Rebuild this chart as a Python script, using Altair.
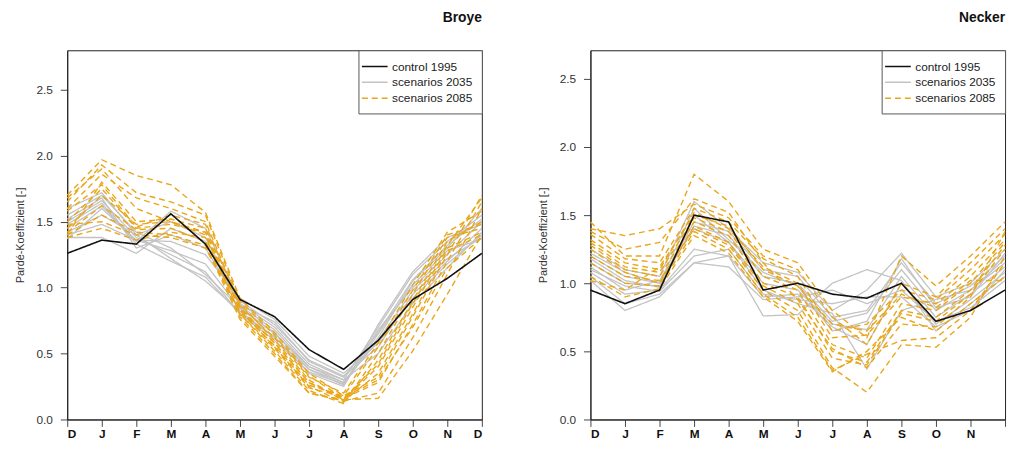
import altair as alt
import pandas as pd

FONT = "Liberation Sans"
MONTHS = ["D", "J", "F", "M", "A", "M", "J", "J", "A", "S", "O", "N", "D"]
GROUPS = ["control 1995", "scenarios 2035", "scenarios 2085"]
Y_TICKS = [0.0, 0.5, 1.0, 1.5, 2.0, 2.5]

# ---------------- Broye ----------------
BROYE_CONTROL = [1.26, 1.36, 1.33, 1.56, 1.33, 0.91, 0.78, 0.53, 0.38, 0.60, 0.91, 1.07, 1.26]
BROYE_2035 = [
    [1.60, 1.72, 1.40, 1.22, 1.05, 0.82, 0.62, 0.38, 0.28, 0.62, 1.05, 1.30, 1.60],
    [1.55, 1.70, 1.42, 1.30, 1.10, 0.85, 0.65, 0.40, 0.30, 0.70, 1.10, 1.35, 1.55],
    [1.50, 1.66, 1.38, 1.25, 1.12, 0.80, 0.60, 0.36, 0.27, 0.68, 1.00, 1.25, 1.50],
    [1.45, 1.62, 1.35, 1.58, 1.45, 0.90, 0.72, 0.45, 0.33, 0.55, 0.95, 1.20, 1.45],
    [1.42, 1.55, 1.40, 1.50, 1.38, 0.88, 0.70, 0.42, 0.30, 0.50, 0.88, 1.15, 1.42],
    [1.40, 1.48, 1.36, 1.35, 1.25, 0.92, 0.76, 0.48, 0.35, 0.58, 0.92, 1.18, 1.40],
    [1.38, 1.38, 1.26, 1.45, 1.35, 0.86, 0.68, 0.40, 0.28, 0.60, 0.98, 1.22, 1.38],
    [1.37, 1.60, 1.36, 1.28, 1.18, 0.84, 0.66, 0.38, 0.26, 0.65, 1.02, 1.28, 1.37],
    [1.48, 1.64, 1.33, 1.20, 1.08, 0.80, 0.63, 0.35, 0.25, 0.72, 1.12, 1.38, 1.48],
    [1.52, 1.68, 1.30, 1.40, 1.30, 0.87, 0.74, 0.44, 0.32, 0.66, 1.06, 1.32, 1.52],
]
BROYE_2085 = [
    [1.70, 1.97, 1.85, 1.78, 1.57, 0.92, 0.66, 0.35, 0.18, 0.32, 0.78, 1.25, 1.70],
    [1.65, 1.93, 1.72, 1.65, 1.55, 0.90, 0.64, 0.33, 0.16, 0.28, 0.72, 1.20, 1.65],
    [1.60, 1.86, 1.68, 1.60, 1.50, 0.88, 0.60, 0.30, 0.14, 0.20, 0.62, 1.10, 1.60],
    [1.40, 1.80, 1.50, 1.52, 1.45, 0.85, 0.58, 0.28, 0.15, 0.16, 0.52, 0.95, 1.40],
    [1.50, 1.75, 1.45, 1.48, 1.42, 0.83, 0.55, 0.25, 0.13, 0.45, 0.90, 1.35, 1.50],
    [1.45, 1.70, 1.48, 1.50, 1.40, 0.80, 0.52, 0.22, 0.12, 0.50, 0.95, 1.38, 1.45],
    [1.42, 1.62, 1.44, 1.45, 1.35, 0.78, 0.50, 0.20, 0.15, 0.40, 0.85, 1.30, 1.42],
    [1.40, 1.55, 1.42, 1.40, 1.32, 0.76, 0.48, 0.20, 0.14, 0.35, 0.80, 1.28, 1.40],
    [1.48, 1.50, 1.40, 1.38, 1.30, 0.82, 0.56, 0.26, 0.18, 0.55, 0.98, 1.40, 1.48],
    [1.58, 1.78, 1.46, 1.55, 1.48, 0.86, 0.62, 0.32, 0.20, 0.58, 1.02, 1.42, 1.58],
    [1.38, 1.45, 1.36, 1.42, 1.38, 0.80, 0.54, 0.24, 0.17, 0.30, 0.70, 1.15, 1.38],
    [1.68, 1.90, 1.60, 1.50, 1.42, 0.84, 0.58, 0.28, 0.16, 0.42, 0.88, 1.32, 1.68],
]

# ---------------- Necker ----------------
NECKER_CONTROL = [0.95, 0.85, 0.95, 1.50, 1.45, 0.95, 1.00, 0.92, 0.89, 1.00, 0.72, 0.80, 0.95]
NECKER_2035 = [
    [1.25, 1.10, 1.05, 1.60, 1.40, 1.15, 1.08, 0.80, 0.95, 1.22, 0.90, 1.00, 1.25],
    [1.20, 1.05, 1.00, 1.45, 1.38, 1.10, 1.05, 0.75, 0.80, 1.15, 0.85, 0.98, 1.20],
    [1.15, 1.00, 0.98, 1.42, 1.35, 1.05, 1.00, 0.72, 0.78, 1.10, 0.80, 0.95, 1.15],
    [1.12, 0.95, 1.02, 1.40, 1.30, 1.00, 0.95, 0.70, 0.66, 1.05, 0.75, 0.92, 1.12],
    [1.08, 0.92, 0.95, 1.25, 1.20, 0.90, 0.92, 0.68, 0.55, 1.00, 0.70, 0.88, 1.08],
    [1.05, 0.85, 0.92, 1.15, 1.20, 0.76, 0.77, 1.00, 1.10, 1.02, 0.65, 0.85, 1.05],
    [1.02, 0.80, 0.90, 1.15, 1.12, 0.88, 0.90, 0.95, 0.85, 0.95, 0.72, 0.82, 1.02],
    [1.18, 1.02, 0.97, 1.50, 1.30, 0.95, 0.85, 0.78, 0.37, 0.80, 0.88, 0.95, 1.18],
    [1.22, 1.08, 1.00, 1.55, 1.32, 1.08, 0.98, 0.65, 0.72, 1.18, 0.82, 0.90, 1.22],
    [1.10, 0.98, 0.94, 1.20, 1.25, 0.92, 0.88, 0.85, 0.90, 0.90, 0.68, 0.80, 1.10],
]
NECKER_2085 = [
    [1.45, 1.20, 1.20, 1.80, 1.60, 1.25, 1.15, 0.80, 0.60, 1.20, 0.98, 1.20, 1.45],
    [1.40, 1.35, 1.40, 1.58, 1.48, 1.20, 1.10, 0.75, 0.55, 1.00, 0.90, 1.15, 1.40],
    [1.36, 1.18, 1.15, 1.55, 1.45, 1.18, 1.05, 0.65, 0.70, 0.95, 0.88, 1.10, 1.36],
    [1.32, 1.15, 1.10, 1.52, 1.40, 1.12, 1.00, 0.60, 0.62, 0.90, 0.85, 1.05, 1.32],
    [1.30, 1.12, 1.08, 1.48, 1.38, 1.05, 0.95, 0.55, 0.45, 0.85, 0.80, 1.00, 1.30],
    [1.28, 1.10, 1.05, 1.45, 1.35, 1.00, 0.90, 0.50, 0.42, 0.80, 0.75, 0.95, 1.28],
    [1.25, 1.08, 1.00, 1.42, 1.30, 0.98, 0.85, 0.45, 0.40, 0.78, 0.72, 0.92, 1.25],
    [1.20, 1.05, 1.02, 1.40, 1.28, 0.95, 0.80, 0.38, 0.20, 0.55, 0.53, 0.75, 1.20],
    [1.15, 1.00, 0.98, 1.38, 1.25, 0.92, 0.75, 0.36, 0.48, 0.58, 0.60, 0.80, 1.15],
    [1.05, 0.90, 0.96, 1.35, 1.22, 0.90, 0.72, 0.35, 0.50, 0.75, 0.65, 0.85, 1.05],
    [1.02, 0.95, 1.12, 1.50, 1.42, 1.10, 0.98, 0.70, 0.65, 0.92, 0.82, 1.02, 1.02],
    [1.38, 1.25, 1.30, 1.62, 1.52, 1.15, 0.88, 0.52, 0.38, 0.70, 0.68, 0.90, 1.38],
]

COLORS = ["#111111", "#c3c3c3", "#e9a619"]
DASHES = [[1, 0], [1, 0], [6, 4]]


def to_df(control, s35, s85):
    rows = []
    for i, v in enumerate(control):
        rows.append({"m": i, "v": v, "group": GROUPS[0], "run": "c"})
    for k, ser in enumerate(s35):
        for i, v in enumerate(ser):
            rows.append({"m": i, "v": v, "group": GROUPS[1], "run": f"a{k}"})
    for k, ser in enumerate(s85):
        for i, v in enumerate(ser):
            rows.append({"m": i, "v": v, "group": GROUPS[2], "run": f"b{k}"})
    return pd.DataFrame(rows)


month_array = "[" + ",".join(f"'{m}'" for m in MONTHS) + "]"


def panel(df, title, ymax, last_label=True):
    if last_label:
        label_expr = f"{month_array}[datum.value]"
    else:
        # in the original the last label falls on the picture's right edge
        label_expr = f"datum.value < 12 ? {month_array}[datum.value] : ''"
    legend = alt.Legend(
        title=None,
        orient="top-right",
        offset=0,
        symbolType="M-2,0H2",
        symbolSize=169,
        symbolStrokeWidth=1.5,
        labelOffset=10,
        rowPadding=2,
        padding=9,
    )
    base = alt.Chart(df).encode(
        x=alt.X("m:Q", scale=alt.Scale(domain=[0, 12], nice=False),
                axis=alt.Axis(values=list(range(13)), labelExpr=label_expr, title=None,
                              labelFontWeight="bold", labelFontSize=12, labelColor="#111",
                              labelPadding=2, tickSize=7)),
        y=alt.Y("v:Q", scale=alt.Scale(domain=[0, ymax], nice=False, zero=True),
                axis=alt.Axis(values=Y_TICKS, format=".1f", title="Pardé-Koeffizient [-]",
                              labelFontSize=12, labelColor="#333", labelPadding=8, tickSize=7,
                              titleFontSize=11, titleFontWeight="normal", titleColor="#333",
                              titlePadding=11)),
        color=alt.Color("group:N", scale=alt.Scale(domain=GROUPS, range=COLORS), legend=legend),
        strokeDash=alt.StrokeDash("group:N", scale=alt.Scale(domain=GROUPS, range=DASHES), legend=legend),
        detail="run:N",
    )
    grey = base.transform_filter(alt.datum.group == GROUPS[1]).mark_line(strokeWidth=1.3)
    orange = base.transform_filter(alt.datum.group == GROUPS[2]).mark_line(strokeWidth=1.4)
    black = base.transform_filter(alt.datum.group == GROUPS[0]).mark_line(strokeWidth=1.6)
    return alt.layer(grey, orange, black).properties(
        width=420, height=374,
        title=alt.TitleParams(title, anchor="end", frame="group", fontSize=14,
                              fontWeight="bold", color="#111", offset=25),
    )


left = panel(to_df(BROYE_CONTROL, BROYE_2035, BROYE_2085), "Broye", 2.8)
right = panel(to_df(NECKER_CONTROL, NECKER_2035, NECKER_2085), "Necker", 2.71, last_label=False)

chart = (
    alt.hconcat(left, right, spacing=51)
    .resolve_scale(x="independent", y="independent", color="independent", strokeDash="independent")
    .resolve_legend(color="independent", strokeDash="independent")
    .properties(padding={"left": 5, "top": 0, "right": 0, "bottom": 0})
    .configure_view(stroke="#222", strokeWidth=1)
    .configure_axis(grid=False, domainColor="#222", tickColor="#444",
                    labelFont=FONT, titleFont=FONT)
    .configure_legend(labelFont=FONT, labelFontSize=12, labelColor="#222",
                      strokeColor="#555", fillColor="white", cornerRadius=0)
    .configure_title(font=FONT)
)

chart.save("out.html", embed_options={"renderer": "svg", "actions": False})
